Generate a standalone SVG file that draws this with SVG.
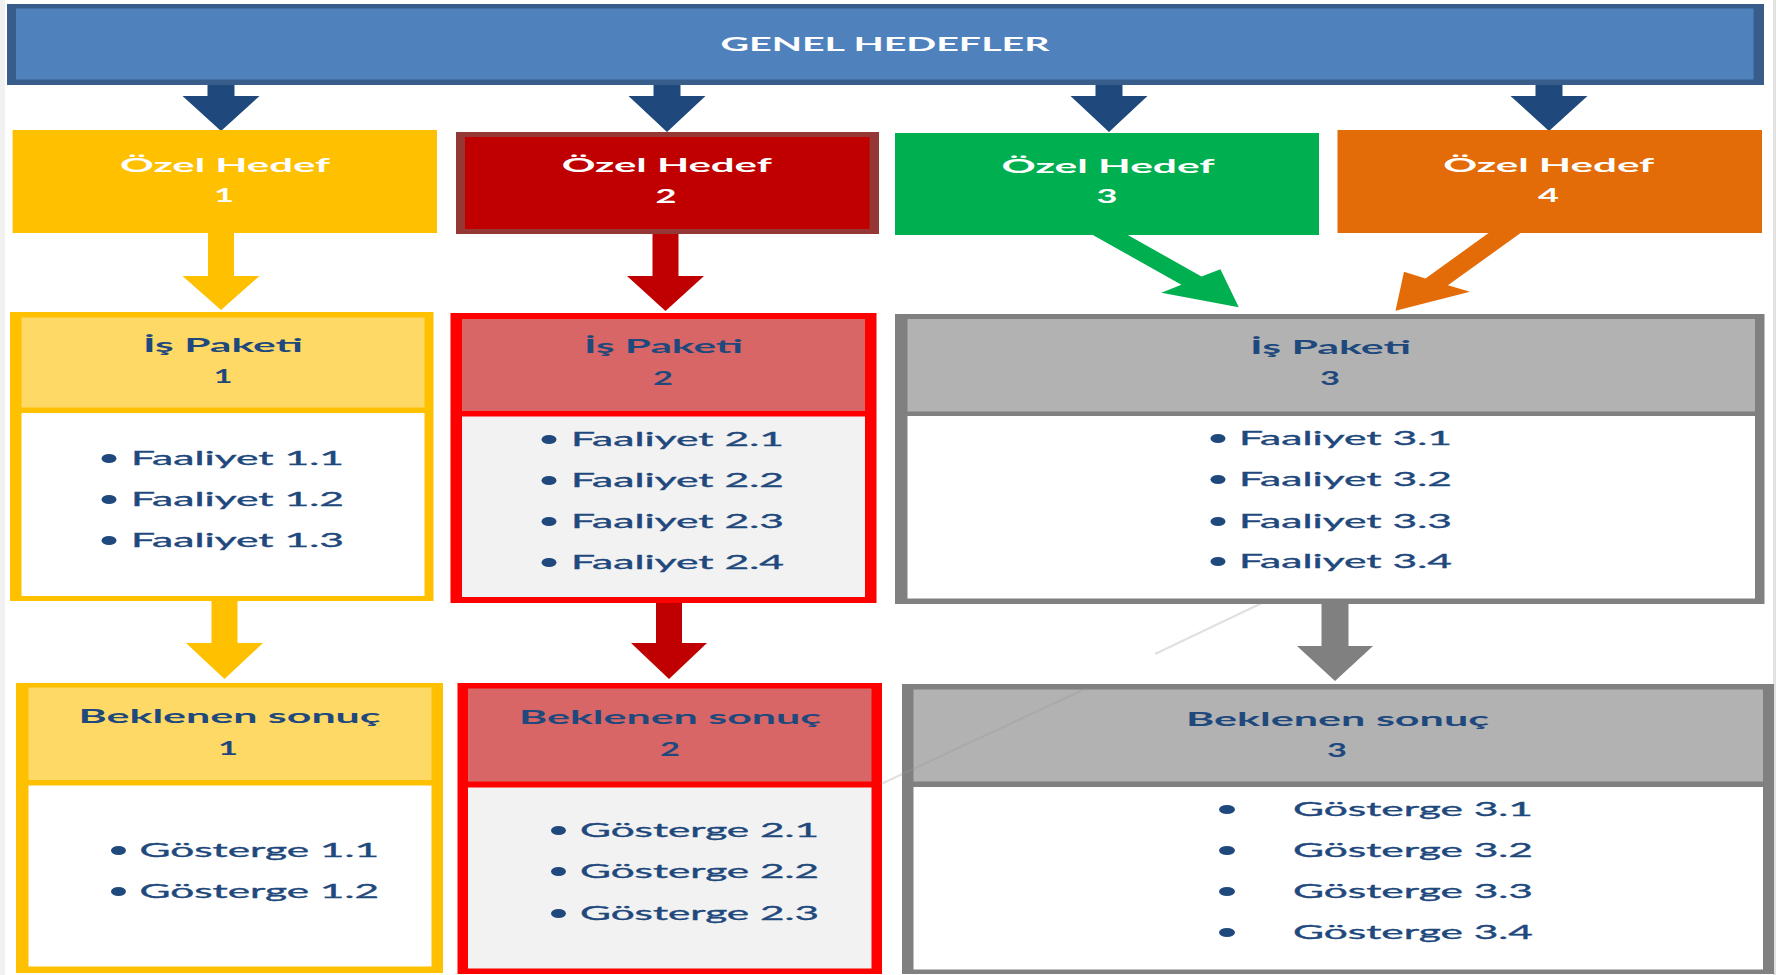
<svg xmlns="http://www.w3.org/2000/svg" width="1776" height="975" viewBox="0 0 1776 975">
<style>
.hd{font-family:Lato,"Open Sans","Liberation Sans",sans-serif;font-weight:700;font-size:19px;text-anchor:middle}
.w{fill:#ffffff}
.b{fill:#1F497D}
.it{font-family:Lato,"Open Sans","Liberation Sans",sans-serif;font-size:19.5px;fill:#1F497D;stroke:#1F497D;stroke-width:0.35}
.dot{fill:#1F497D}
.navy{fill:#1F497D}
.yel{fill:#FFC000}
.red{fill:#C00000}
.gry{fill:#808080}
.faint{stroke:#999999;stroke-opacity:0.3;stroke-width:2;fill:none}
</style>
<rect x="0" y="0" width="1776" height="975" fill="#ffffff"/>
<rect x="0" y="0" width="5" height="975" fill="#F0F0F0"/>
<rect x="1773" y="0" width="3" height="975" fill="#E2E2E2"/>

<g id="connectors">
  <polygon class="navy" points="207.5,84 234.5,84 234.5,96 259.5,96 221,131 182.5,96 207.5,96"/>
  <polygon class="navy" points="653.5,84 680.5,84 680.5,96 705.5,96 667,132 628.5,96 653.5,96"/>
  <polygon class="navy" points="1095.5,84 1122.5,84 1122.5,96 1147.5,96 1109,132 1070.5,96 1095.5,96"/>
  <polygon class="navy" points="1535.5,84 1562.5,84 1562.5,96 1587.5,96 1549,131 1510.5,96 1535.5,96"/>
  <polygon class="yel" points="208,232 234,232 234,276 259.5,276 221,310 182.5,276 208,276"/>
  <polygon class="red" points="652.5,233 678.5,233 678.5,276 704,276 665.5,311 627,276 652.5,276"/>
  <polygon fill="#00B050" points="1091,234 1126,234 1201.5,276.5 1220.4,269.3 1238.8,307.3 1161.3,292.7 1181.4,284.7"/>
  <polygon fill="#E36C09" points="1490,232 1522,232 1447.9,285.3 1470,291.7 1395.5,310.7 1404,271.7 1425.5,278.5"/>
  <polygon class="yel" points="211.5,600 237.5,600 237.5,643 263,643 224.5,679 186,643 211.5,643"/>
  <polygon class="red" points="656,602 682,602 682,643 707,643 669,679 631,643 656,643"/>
  <polygon class="gry" points="1321.5,603 1348.5,603 1348.5,646 1373,646 1335,681 1297,646 1321.5,646"/>
</g>

<g id="genel">
  <rect x="7" y="4" width="1757" height="81" fill="#385D8A"/>
  <rect x="16" y="8.5" width="1737.5" height="71" fill="#4F81BD"/>
  <text class="hd w" x="885" y="51" font-size="20" textLength="329" lengthAdjust="spacingAndGlyphs">GENEL HEDEFLER</text>
</g>

<g id="ozel1">
  <rect x="12.6" y="130" width="424.4" height="103" fill="#FFC000"/>
  <text class="hd w" x="225" y="172" textLength="210" lengthAdjust="spacingAndGlyphs">Özel Hedef</text>
  <text class="hd w" x="224" y="202" textLength="20" lengthAdjust="spacingAndGlyphs">1</text>
</g>
<g id="ozel2">
  <rect x="456" y="132" width="423" height="102" fill="#953735"/>
  <rect x="465" y="137" width="404.6" height="92" fill="#C00000"/>
  <text class="hd w" x="666.7" y="172" textLength="210" lengthAdjust="spacingAndGlyphs">Özel Hedef</text>
  <text class="hd w" x="666" y="203" textLength="21" lengthAdjust="spacingAndGlyphs">2</text>
</g>
<g id="ozel3">
  <rect x="895" y="133" width="424" height="102" fill="#00B050"/>
  <text class="hd w" x="1108" y="173" textLength="213" lengthAdjust="spacingAndGlyphs">Özel Hedef</text>
  <text class="hd w" x="1107" y="203" textLength="21" lengthAdjust="spacingAndGlyphs">3</text>
</g>
<g id="ozel4">
  <rect x="1337.5" y="130" width="424.5" height="103" fill="#E36C09"/>
  <text class="hd w" x="1548.7" y="171.7" textLength="211" lengthAdjust="spacingAndGlyphs">Özel Hedef</text>
  <text class="hd w" x="1548.5" y="201.7" textLength="21" lengthAdjust="spacingAndGlyphs">4</text>
</g>

<g id="paket1">
  <rect x="10" y="312" width="423.5" height="289" fill="#FFC000"/>
  <rect x="21.5" y="317.5" width="403" height="90" fill="#FFD966"/>
  <rect x="21.5" y="413" width="403" height="183" fill="#ffffff"/>
  <text class="hd b" x="223" y="352" textLength="160" lengthAdjust="spacingAndGlyphs">İş Paketi</text>
  <text class="hd b" x="223" y="383" textLength="19" lengthAdjust="spacingAndGlyphs">1</text>
  <ellipse class="dot" cx="109" cy="458.5" rx="7.5" ry="4.5"/>
  <text class="it" x="131" y="465" textLength="213" lengthAdjust="spacingAndGlyphs">Faaliyet 1.1</text>
  <ellipse class="dot" cx="109" cy="499.5" rx="7.5" ry="4.5"/>
  <text class="it" x="131" y="506" textLength="213" lengthAdjust="spacingAndGlyphs">Faaliyet 1.2</text>
  <ellipse class="dot" cx="109" cy="540.5" rx="7.5" ry="4.5"/>
  <text class="it" x="131" y="547" textLength="213" lengthAdjust="spacingAndGlyphs">Faaliyet 1.3</text>
</g>
<g id="paket2">
  <rect x="450.5" y="313" width="426" height="290" fill="#FF0000"/>
  <rect x="462" y="319" width="403" height="92" fill="#D96666"/>
  <rect x="462" y="416.5" width="403" height="180.5" fill="#F2F2F2"/>
  <text class="hd b" x="663.5" y="353" textLength="159" lengthAdjust="spacingAndGlyphs">İş Paketi</text>
  <text class="hd b" x="663" y="385" textLength="20" lengthAdjust="spacingAndGlyphs">2</text>
  <ellipse class="dot" cx="549" cy="439.5" rx="7.5" ry="4.5"/>
  <text class="it" x="571" y="446" textLength="213" lengthAdjust="spacingAndGlyphs">Faaliyet 2.1</text>
  <ellipse class="dot" cx="549" cy="480.5" rx="7.5" ry="4.5"/>
  <text class="it" x="571" y="487" textLength="213" lengthAdjust="spacingAndGlyphs">Faaliyet 2.2</text>
  <ellipse class="dot" cx="549" cy="521.5" rx="7.5" ry="4.5"/>
  <text class="it" x="571" y="528" textLength="213" lengthAdjust="spacingAndGlyphs">Faaliyet 2.3</text>
  <ellipse class="dot" cx="549" cy="562.5" rx="7.5" ry="4.5"/>
  <text class="it" x="571" y="569" textLength="213" lengthAdjust="spacingAndGlyphs">Faaliyet 2.4</text>
</g>
<g id="paket3">
  <rect x="895" y="314" width="869.5" height="290" fill="#808080"/>
  <rect x="907.5" y="319" width="847.5" height="92.5" fill="#B2B2B2"/>
  <rect x="907.5" y="416" width="847.5" height="182.5" fill="#ffffff"/>
  <text class="hd b" x="1330.5" y="354" textLength="161" lengthAdjust="spacingAndGlyphs">İş Paketi</text>
  <text class="hd b" x="1330" y="385" textLength="20" lengthAdjust="spacingAndGlyphs">3</text>
  <ellipse class="dot" cx="1218" cy="438.5" rx="7.5" ry="4.5"/>
  <text class="it" x="1239" y="445" textLength="213" lengthAdjust="spacingAndGlyphs">Faaliyet 3.1</text>
  <ellipse class="dot" cx="1218" cy="479.5" rx="7.5" ry="4.5"/>
  <text class="it" x="1239" y="486" textLength="213" lengthAdjust="spacingAndGlyphs">Faaliyet 3.2</text>
  <ellipse class="dot" cx="1218" cy="521.5" rx="7.5" ry="4.5"/>
  <text class="it" x="1239" y="528" textLength="213" lengthAdjust="spacingAndGlyphs">Faaliyet 3.3</text>
  <ellipse class="dot" cx="1218" cy="561.5" rx="7.5" ry="4.5"/>
  <text class="it" x="1239" y="568" textLength="213" lengthAdjust="spacingAndGlyphs">Faaliyet 3.4</text>
</g>

<g id="sonuc1">
  <rect x="16" y="683" width="427" height="290" fill="#FFC000"/>
  <rect x="28.5" y="687.5" width="403" height="92.5" fill="#FFD966"/>
  <rect x="28.5" y="785.5" width="403" height="181" fill="#ffffff"/>
  <text class="hd b" x="229.6" y="723" textLength="302" lengthAdjust="spacingAndGlyphs">Beklenen sonuç</text>
  <text class="hd b" x="228" y="755" textLength="20" lengthAdjust="spacingAndGlyphs">1</text>
  <ellipse class="dot" cx="118.5" cy="850.5" rx="7.5" ry="4.5"/>
  <text class="it" x="139.5" y="857" textLength="239.5" lengthAdjust="spacingAndGlyphs">Gösterge 1.1</text>
  <ellipse class="dot" cx="118.5" cy="891.5" rx="7.5" ry="4.5"/>
  <text class="it" x="139.5" y="898" textLength="239.5" lengthAdjust="spacingAndGlyphs">Gösterge 1.2</text>
</g>
<g id="sonuc2">
  <rect x="457.5" y="683" width="424.5" height="291" fill="#FF0000"/>
  <rect x="468" y="688.5" width="403.5" height="93" fill="#D96666"/>
  <rect x="468" y="787.5" width="403.5" height="181" fill="#F2F2F2"/>
  <text class="hd b" x="670" y="724" textLength="302" lengthAdjust="spacingAndGlyphs">Beklenen sonuç</text>
  <text class="hd b" x="670" y="756" textLength="20" lengthAdjust="spacingAndGlyphs">2</text>
  <ellipse class="dot" cx="558.5" cy="830.5" rx="7.5" ry="4.5"/>
  <text class="it" x="580" y="837" textLength="239" lengthAdjust="spacingAndGlyphs">Gösterge 2.1</text>
  <ellipse class="dot" cx="558.5" cy="871.5" rx="7.5" ry="4.5"/>
  <text class="it" x="580" y="878" textLength="239" lengthAdjust="spacingAndGlyphs">Gösterge 2.2</text>
  <ellipse class="dot" cx="558.5" cy="913.5" rx="7.5" ry="4.5"/>
  <text class="it" x="580" y="920" textLength="239" lengthAdjust="spacingAndGlyphs">Gösterge 2.3</text>
</g>
<g id="sonuc3">
  <rect x="902" y="684" width="872" height="290" fill="#808080"/>
  <rect x="913.5" y="689.5" width="849.5" height="92" fill="#B2B2B2"/>
  <rect x="913.5" y="787" width="849.5" height="182.5" fill="#ffffff"/>
  <text class="hd b" x="1337.5" y="726" textLength="303" lengthAdjust="spacingAndGlyphs">Beklenen sonuç</text>
  <text class="hd b" x="1337" y="757" textLength="20" lengthAdjust="spacingAndGlyphs">3</text>
  <ellipse class="dot" cx="1227" cy="809.5" rx="8" ry="4.5"/>
  <text class="it" x="1293" y="816" textLength="240" lengthAdjust="spacingAndGlyphs">Gösterge 3.1</text>
  <ellipse class="dot" cx="1227" cy="850.5" rx="8" ry="4.5"/>
  <text class="it" x="1293" y="857" textLength="240" lengthAdjust="spacingAndGlyphs">Gösterge 3.2</text>
  <ellipse class="dot" cx="1227" cy="891.5" rx="8" ry="4.5"/>
  <text class="it" x="1293" y="898" textLength="240" lengthAdjust="spacingAndGlyphs">Gösterge 3.3</text>
  <ellipse class="dot" cx="1227" cy="932.5" rx="8" ry="4.5"/>
  <text class="it" x="1293" y="939" textLength="240" lengthAdjust="spacingAndGlyphs">Gösterge 3.4</text>
</g>

<g id="stray-line">
  <line class="faint" x1="1262" y1="603" x2="1155" y2="654"/>
  <line class="faint" x1="1087" y1="688" x2="881" y2="784"/>
</g>
</svg>
